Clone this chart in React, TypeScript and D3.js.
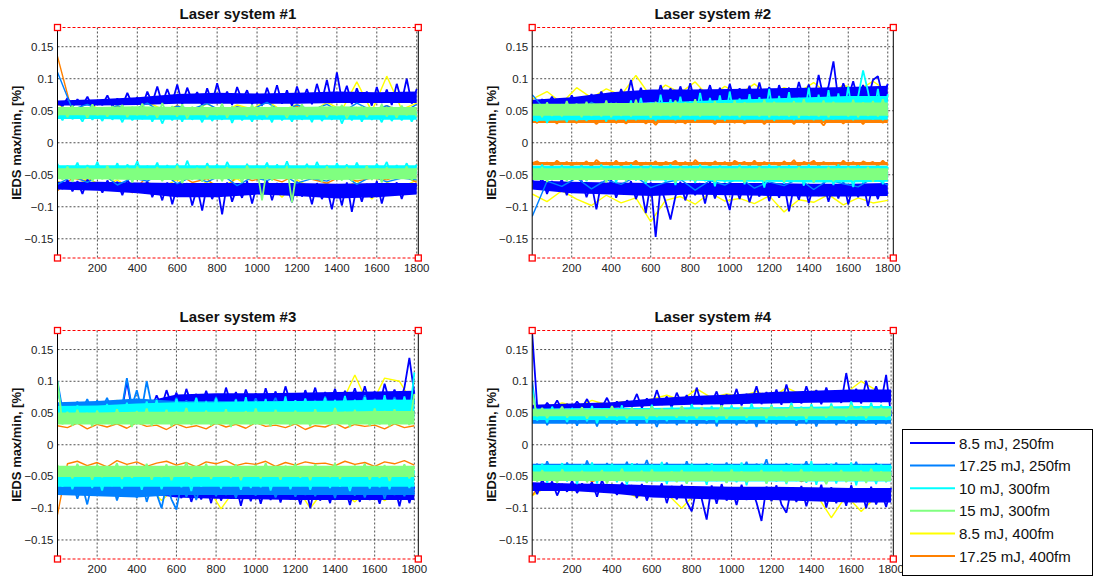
import React from "react";
import * as d3 from "d3";

// legend order
const SERIES = ["8.5 mJ, 250fm", "17.25 mJ, 250fm", "10 mJ, 300fm", "15 mJ, 300fm", "8.5 mJ, 400fm", "17.25 mJ, 400fm"];
const COLORS = ["#0000ff", "#0080ff", "#00ffff", "#80ff80", "#ffff00", "#ff8000"];
// matlab plotted them so that yellow/orange sit underneath
const DRAW_ORDER = [4, 5, 0, 1, 2, 3];

const TITLES = ["Laser system #1", "Laser system #2", "Laser system #3", "Laser system #4"];
const X_TICKS = [200, 400, 600, 800, 1000, 1200, 1400, 1600, 1800];
const Y_TICKS = [-0.15, -0.1, -0.05, 0, 0.05, 0.1, 0.15];
const X_LAST = 1800; // last pulse index
const X_MAX = [1808, 1828, 1820, 1811]; // axis limits of each subplot
const CORE_STEP = 200; // pulses between core samples

// IEDS max / min traces (sampled), values in 1e-3 %, series in legend order
const sys1Max: number[][] = [
  [64,57,70,56,68,58,72,55,66,59, 74,57,69,58,78,60,71,56,80,62, 88,61,84,63,91,60,86,65,79,58, 85,62,93,64,80,59,87,66,82,60, 78,58,86,63,90,61,82,57,88,64, 84,60,92,65,98,62,110,66,89,60, 85,63,80,58,87,62,83,59,92,64, 100,61,84],
  [110,52,60,48,58,50,62,47,57,53,61,49,56,52,63,48,59,51,60,47,62,50,58,46,60],
  [48,35,52,37,46,33,50,36,47,34, 53,36,49,32,51,35,47,37,54,33, 50,30,48,35,52,33,55,36,49,32, 51,34,47,36,53,31,50,35,48,33, 52,36,49,32,54,35,47,33,51,36, 50,32,53,34,48,36,52,30,49,35, 54,33,50,36,47,32,52,34,49,35, 51,33,48],
  [42,56,40,58,44,55,39,60,43,54, 41,57,45,59,40,56,43,61,42,55, 39,62,44,57,41,60,38,56,45,58, 40,55,43,61,39,57,44,54,41,59, 42,56,40,58,45,53,39,57,43,60, 41,55,44,58,40,56,43,59,38,54, 42,57,40,55,44,60,41,56,39,58, 43,55,41],
  [60,48,62,50,58,46,64,52,57,49,61,47,59,53,66,50,60,48,63,51,95,49,104,52,62],
  [135,46,55,44,57,48,53,45,58,47,52,44,56,49,54,46,57,45,53,48,55,44,58,47,52],
];
const sys1Min: number[][] = [
  [-62,-72,-58,-76,-60,-80,-57,-71,-63,-78, -59,-74,-61,-82,-58,-70,-64,-77,-60,-85, -66,-90,-62,-96,-68,-84,-63,-98,-70,-106, -64,-88,-67,-112,-62,-92,-69,-86,-60,-95, -65,-82,-59,-90,-63,-78,-68,-93,-61,-84, -66,-96,-63,-88,-70,-104,-65,-98,-62,-108, -67,-92,-64,-86,-60,-95,-66,-80,-62,-88, -64,-78,-66],
  [-65,-52,-62,-48,-66,-55,-60,-47,-64,-53,-61,-50,-67,-54,-59,-49,-63,-56,-60,-48,-65,-52,-61,-55,-58],
  [-33,-50,-36,-47,-31,-53,-35,-48,-30,-51, -37,-49,-32,-54,-34,-46,-29,-52,-36,-48, -31,-55,-35,-47,-33,-51,-28,-49,-36,-53, -32,-48,-34,-52,-30,-46,-37,-54,-33,-50, -35,-47,-31,-53,-34,-49,-29,-51,-36,-48, -33,-52,-30,-47,-35,-55,-32,-49,-34,-51, -31,-48,-36,-53,-33,-46,-30,-52,-35,-49, -32,-50,-34],
  [-40,-58,-37,-61,-42,-55,-38,-60,-41,-57, -36,-59,-43,-56,-39,-62,-37,-58,-44,-55, -38,-60,-41,-57,-36,-63,-42,-58,-39,-61, -37,-56,-43,-60,-38,-58,-41,-62,-36,-57, -40,-90,-38,-59,-42,-56,-37,-93,-41,-58, -39,-57,-42,-61,-37,-55,-43,-59,-38,-60, -41,-56,-36,-58,-40,-62,-38,-57,-42,-55, -37,-59,-40],
  [-60,-72,-55,-68,-58,-74,-62,-70,-57,-78,-60,-69,-56,-73,-61,-85,-58,-71,-63,-76,-59,-88,-62,-70,-58],
  [-75,-55,-60,-50,-64,-78,-52,-58,-48,-62,-56,-80,-51,-59,-54,-61,-49,-57,-63,-52,-60,-55,-58,-50,-62],
];

const sys2Max: number[][] = [
  [63,55,68,57,72,58,66,54,74,60, 70,58,76,60,80,62,75,57,84,63, 98,61,86,64,82,60,90,66,85,62, 88,65,93,61,84,67,90,63,86,60, 92,64,85,66,89,62,94,65,87,61, 90,67,86,63,95,68,91,64,106,70, 88,127,66,93,71,96,65,90,68,98, 104,72,92],
  [75,48,60,45,63,50,58,44,62,52,57,46,64,49,59,47,61,51,56,45,63,48,60,50,58],
  [50,33,56,31,52,35,58,32,54,34, 57,34,60,36,55,33,62,35,58,34, 66,35,70,36,63,34,75,36,68,35, 72,36,65,34,78,37,70,35,74,34, 80,36,69,35,76,37,71,35,84,34, 73,36,79,35,70,37,86,35,75,34, 82,36,77,37,88,35,72,113,80,36, 84,35,76],
  [44,60,40,63,42,58,41,65,43,61, 40,64,42,59,41,66,40,62,42,60, 41,67,43,61,39,64,42,60,41,66, 40,63,42,68,41,61,43,65,40,62, 42,66,40,63,43,60,41,67,40,64, 42,61,41,65,39,68,42,62,41,66, 40,64,43,60,41,67,40,63,42,65, 41,68,42],
  [68,80,62,86,70,84,74,105,72,90,78,95,70,88,76,92,73,86,79,94,75,90,82,96,80],
  [36,31,38,33,37,30,38,34,36,31, 38,32,37,29,36,33,38,31,36,30, 37,34,38,30,36,28,37,33,38,31, 36,30,38,34,37,32,37,29,38,33, 38,31,37,30,36,34,38,29,37,32, 37,33,38,29,38,31,37,35,36,27, 38,32,37,30,37,34,38,29,38,33, 37,31,37],
];
const sys2Min: number[][] = [
  [-58,-72,-55,-80,-60,-74,-57,-82,-62,-76, -59,-85,-63,-104,-61,-78,-58,-86,-64,-80, -60,-88,-66,-110,-62,-147,-68,-92,-120,-84, -61,-90,-65,-82,-63,-95,-60,-87,-66,-80, -105,-64,-88,-62,-93,-67,-84,-60,-91,-65, -86,-63,-107,-68,-89,-61,-94,-66,-83,-62, -92,-64,-87,-60,-96,-67,-85,-63,-99,-65, -88,-62,-80],
  [-115,-60,-68,-55,-72,-58,-65,-53,-70,-62,-57,-74,-59,-66,-54,-71,-61,-67,-56,-73,-58,-64,-69,-55,-66],
  [-36,-52,-34,-58,-38,-50,-35,-56,-37,-53, -35,-60,-39,-54,-34,-57,-36,-62,-38,-55, -34,-59,-37,-64,-35,-56,-39,-61,-34,-66, -38,-58,-36,-63,-34,-60,-37,-68,-35,-62, -39,-57,-34,-65,-36,-61,-38,-70,-34,-59, -37,-64,-35,-60,-39,-67,-34,-62,-36,-58, -38,-66,-34,-61,-37,-69,-35,-63,-39,-60, -36,-65,-38],
  [-40,-58,-38,-61,-41,-56,-39,-60,-40,-57, -39,-59,-41,-55,-38,-62,-40,-57,-39,-60, -41,-56,-39,-61,-38,-58,-41,-55,-40,-62, -39,-57,-40,-60,-38,-56,-41,-61,-39,-58, -41,-55,-38,-62,-40,-57,-38,-60,-40,-56, -39,-61,-41,-58,-38,-55,-40,-62,-41,-57, -38,-60,-40,-56,-39,-59,-41,-55,-38,-61, -40,-58,-41],
  [-80,-92,-75,-88,-98,-82,-94,-86,-123,-90,-84,-96,-78,-91,-87,-95,-83,-108,-89,-93,-81,-97,-86,-94,-90],
  [-32,-29,-35,-31,-36,-28,-34,-30,-36,-31, -35,-29,-37,-27,-33,-31,-36,-28,-36,-30, -34,-28,-36,-31,-35,-29,-37,-30,-33,-28, -36,-30,-37,-27,-34,-31,-36,-29,-35,-30, -37,-28,-33,-30,-36,-28,-37,-30,-34,-31, -36,-29,-35,-27,-37,-30,-33,-28,-36,-30, -34,-31,-37,-28,-35,-30,-36,-29,-33,-30, -36,-28,-35],
];

const sys3Max: number[][] = [
  [90,52,60,50,64,53,62,49,66,55, 63,51,68,54,100,56,65,52,70,57, 78,60,86,63,82,58,88,65,80,61, 85,62,79,59,90,64,83,60,87,66, 81,58,89,63,84,61,92,65,80,59, 86,64,90,60,83,66,88,62,85,67, 89,63,92,65,84,61,96,68,87,64, 90,137,80],
  [100,55,62,50,68,54,72,52,70,56, 74,53,69,58,105,60,86,55,100,62, 72,52,68,55,74,50,70,56,73,53, 69,55,75,51,68,57,72,52,70,56, 73,53,67,58,74,51,71,55,69,54, 72,57,70,52,76,55,71,58,74,53, 70,56,78,54,72,59,69,55,75,57, 73,54,70],
  [95,40,58,36,62,42,56,38,60,41, 64,39,59,43,66,37,61,40,68,42, 70,41,65,38,72,44,67,40,74,39, 68,43,73,38,66,42,71,40,75,37, 69,44,72,39,67,41,76,38,70,43, 73,40,68,45,74,39,70,42,77,41, 71,38,75,43,69,40,78,44,72,39, 76,42,114],
  [100,32,52,30,55,34,50,29,54,33, 49,31,56,35,51,28,53,32,57,30, 48,34,55,29,52,33,58,31,50,35, 54,30,49,33,56,28,51,34,53,31, 57,32,50,29,55,35,48,30,54,33, 51,29,56,34,49,31,58,33,52,28, 55,35,50,30,57,32,53,29,56,34, 50,31,80],
  [60,55,65,52,70,58,63,54,68,57,66,53,71,59,64,56,69,55,72,60,110,58,105,100,62],
  [30,27,34,25,32,28,33,26,35,29,31,24,33,27,30,25,34,28,32,26,35,29,31,27,33,24,30,28,34,26,32,29,31,25,33,27,30],
];
const sys3Min: number[][] = [
  [-60,-72,-56,-75,-62,-70,-58,-77,-61,-73, -57,-76,-63,-71,-59,-78,-55,-74,-62,-79, -60,-80,-58,-82,-64,-84,-61,-90,-66,-86, -63,-92,-60,-88,-67,-85,-62,-96,-65,-89, -61,-93,-66,-87,-60,-91,-64,-86,-68,-94, -63,-100,-62,-88,-67,-92,-60,-85,-66,-95, -64,-90,-61,-87,-68,-93,-63,-86,-65,-97, -62,-92,-66],
  [-70,-62,-78,-58,-85,-64,-94,-60,-80,-66, -75,-59,-88,-63,-79,-61,-84,-57,-90,-65, -77,-100,-62,-86,-102,-60,-82,-64,-87,-59, -76,-63,-81,-58,-79,-62,-84,-60,-78,-65, -80,-61,-77,-59,-83,-64,-75,-60,-82,-62, -79,-58,-81,-63,-76,-61,-84,-59,-78,-64, -80,-60,-83,-62,-77,-58,-85,-61,-79,-63, -81,-60,-78],
  [-45,-66,-42,-70,-47,-63,-40,-68,-44,-72, -41,-65,-46,-69,-43,-62,-39,-71,-45,-64, -42,-70,-47,-63,-40,-67,-44,-73,-41,-66, -46,-64,-43,-69,-39,-65,-45,-71,-42,-68, -44,-67,-40,-72,-46,-63,-42,-70,-45,-65, -41,-71,-47,-64,-43,-68,-40,-66,-44,-73, -46,-62,-42,-69,-45,-67,-39,-70,-43,-64, -44,-68,-41],
  [-32,-50,-35,-53,-30,-48,-36,-55,-31,-51, -34,-49,-29,-54,-33,-52,-37,-47,-30,-55, -35,-51,-31,-56,-34,-48,-28,-53,-36,-50, -30,-54,-33,-49,-37,-52,-31,-56,-35,-47, -32,-53,-29,-50,-36,-55,-33,-48,-30,-52, -34,-56,-31,-49,-37,-51,-29,-54,-35,-50, -33,-48,-30,-55,-36,-52,-32,-57,-34,-49, -31,-53,-35],
  [-62,-70,-58,-74,-65,-72,-60,-88,-66,-75,-63,-101,-68,-73,-61,-77,-64,-100,-69,-72,-90,-67,-88,-71,-65],
  [-110,-30,-26,-33,-28,-35,-25,-31,-27,-34,-29,-26,-32,-28,-35,-27,-30,-25,-33,-29,-31,-26,-34,-28,-32,-27,-30,-29,-33,-26,-31,-28,-34,-27,-30,-25,-32],
];

const sys4Max: number[][] = [
  [175,60,54,66,56,70,55,64,57,68, 58,72,56,65,59,74,57,68,55,70, 62,80,58,73,60,86,63,76,59,82, 64,78,61,90,63,75,66,84,60,79, 65,88,62,80,68,92,64,83,66,87, 63,95,67,82,65,92,69,86,64,90, 68,84,66,113,70,88,65,101,71,92, 67,110,45],
  [100,35,50,31,48,36,53,33,47,30, 52,34,49,29,51,37,46,32,54,35, 48,30,53,36,47,28,50,34,55,31, 49,35,52,30,46,33,54,29,50,36, 53,31,47,34,51,28,55,35,48,32, 50,36,54,30,47,33,52,29,49,35, 55,31,48,34,53,30,50,36,46,32, 51,33,49],
  [90,38,55,35,60,40,52,36,58,39, 54,37,61,34,57,41,53,38,62,36, 59,40,56,35,63,39,55,37,60,42, 57,36,64,40,58,38,61,35,56,41, 62,39,57,37,65,42,59,36,63,40, 58,41,66,38,60,36,64,43,57,39, 65,40,59,37,68,42,61,38,66,41, 63,39,60],
  [80,45,58,42,56,47,60,43,55,46, 59,41,57,48,54,43,61,45,56,42, 58,47,55,41,60,44,57,48,53,43, 61,45,56,42,59,47,54,44,62,41, 57,46,60,43,55,48,58,42,61,45, 56,44,62,47,58,41,60,46,57,43, 61,48,56,44,63,45,59,42,60,47, 58,44,50],
  [62,58,66,60,70,63,68,65,72,78,70,88,74,80,76,84,73,90,79,85,77,82,100,86,80],
  [60,45,52,43,55,47,50,44,53,46,51,42,54,48,50,45,52,43,55,47,51,44,53,46,50],
];
const sys4Min: number[][] = [
  [-60,-78,-55,-72,-58,-80,-62,-74,-57,-76, -61,-70,-59,-82,-56,-75,-63,-79,-60,-73, -64,-84,-62,-88,-66,-80,-61,-92,-65,-86, -63,-90,-105,-68,-85,-118,-64,-93,-62,-88, -67,-95,-63,-87,-69,-91,-120,-66,-89,-64, -94,-107,-68,-90,-65,-97,-70,-88,-63,-99, -67,-92,-71,-96,-64,-90,-69,-100,-66,-94, -72,-98,-68],
  [-40,-30,-48,-26,-45,-33,-50,-28,-44,-31, -49,-25,-46,-34,-52,-29,-43,-32,-47,-27, -51,-30,-44,-24,-48,-33,-53,-28,-45,-31, -50,-26,-47,-35,-42,-29,-54,-32,-46,-28, -52,-33,-45,-27,-49,-30,-44,-23,-51,-34, -47,-29,-53,-31,-43,-26,-50,-33,-48,-30, -45,-28,-52,-32,-46,-27,-49,-34,-44,-29, -50,-31,-47],
  [-35,-55,-30,-60,-33,-52,-29,-58,-34,-62, -31,-56,-28,-61,-35,-53,-30,-59,-33,-63, -29,-57,-34,-60,-31,-54,-27,-62,-35,-58, -32,-61,-30,-55,-36,-63,-29,-57,-33,-60, -31,-59,-28,-64,-34,-56,-30,-61,-32,-58, -35,-62,-29,-57,-31,-60,-26,-63,-34,-55, -30,-61,-33,-58,-28,-64,-32,-56,-35,-62, -31,-59,-34],
  [-42,-58,-40,-56,-44,-60,-39,-55,-43,-57, -41,-59,-45,-54,-40,-61,-43,-56,-38,-58, -44,-55,-41,-60,-39,-57,-45,-54,-42,-59, -40,-61,-43,-56,-46,-58,-41,-55,-44,-60, -39,-57,-42,-59,-45,-54,-40,-61,-43,-56, -41,-60,-44,-55,-39,-58,-42,-57,-45,-62, -43,-56,-40,-59,-44,-55,-41,-60,-38,-57, -42,-58,-45],
  [-80,-66,-70,-72,-68,-75,-71,-83,-69,-77,-100,-74,-79,-73,-81,-76,-88,-72,-84,-78,-115,-80,-105,-82,-76],
  [-80,-48,-55,-45,-58,-50,-53,-46,-57,-49,-52,-44,-56,-51,-54,-47,-55,-45,-58,-50,-53,-46,-56,-48,-52],
];

// dense part of each trace (where the 1800 pts smear into a solid band),
// [low, high] every 200 pulses, 1e-3 %; null = nothing solid visible
type Core = [number, number][] | null;
const sys1MaxCore: Core[] = [
  [[58,66],[58,68],[59,71],[61,76],[61,78],[61,77],[61,78],[62,80],[62,79],[62,80]],
  null,
  [[37,49],[37,49],[36,49],[36,49],[36,49],[36,49],[36,49],[36,49],[36,49],[36,49]],
  [[43,56],[43,56],[43,57],[43,56],[43,56],[43,56],[43,56],[43,57],[43,56],[43,56]],
  null,
  null,
];
const sys1MinCore: Core[] = [
  [[-73,-61],[-75,-61],[-79,-62],[-85,-63],[-85,-63],[-81,-63],[-83,-63],[-87,-64],[-85,-63],[-81,-63]],
  null,
  [[-49,-35],[-49,-35],[-49,-35],[-49,-35],[-49,-35],[-49,-35],[-49,-35],[-49,-35],[-49,-35],[-49,-35]],
  [[-57,-40],[-57,-40],[-58,-40],[-58,-40],[-57,-40],[-57,-40],[-57,-40],[-58,-40],[-57,-40],[-57,-40]],
  null,
  null,
];
const sys2MaxCore: Core[] = [
  [[57,67],[59,71],[61,79],[63,83],[63,83],[64,84],[64,85],[65,86],[65,87],[66,89]],
  null,
  [[34,51],[35,55],[36,59],[36,63],[36,65],[36,67],[36,69],[36,71],[36,73],[36,73]],
  [[42,61],[42,61],[42,62],[42,62],[42,62],[42,62],[42,63],[42,63],[42,63],[42,63]],
  null,
  [[31,37],[31,37],[31,37],[31,37],[31,37],[31,37],[31,37],[31,37],[31,37],[31,37]],
];
const sys2MinCore: Core[] = [
  [[-73,-59],[-79,-61],[-81,-62],[-83,-63],[-81,-63],[-82,-63],[-83,-63],[-84,-64],[-84,-64],[-83,-63]],
  null,
  [[-53,-36],[-55,-36],[-57,-36],[-59,-36],[-59,-36],[-61,-36],[-61,-36],[-62,-36],[-62,-36],[-61,-36]],
  [[-58,-40],[-58,-40],[-58,-40],[-58,-40],[-58,-40],[-58,-40],[-58,-40],[-58,-40],[-58,-40],[-58,-40]],
  null,
  [[-35,-30],[-35,-30],[-35,-30],[-35,-30],[-35,-30],[-35,-30],[-35,-30],[-35,-30],[-35,-30],[-35,-30]],
];
const sys3MaxCore: Core[] = [
  [[53,61],[53,63],[55,65],[63,79],[63,81],[63,81],[63,82],[64,83],[65,84],[65,85]],
  [[55,67],[55,69],[57,73],[55,69],[54,69],[54,69],[55,69],[55,70],[56,71],[56,71]],
  [[41,61],[41,62],[42,65],[42,67],[42,67],[42,68],[42,69],[42,69],[42,71],[42,71]],
  [[32,51],[32,51],[32,52],[32,52],[32,52],[32,52],[32,52],[32,52],[32,53],[32,53]],
  null,
  null,
];
const sys3MinCore: Core[] = [
  [[-73,-59],[-74,-60],[-75,-61],[-83,-63],[-85,-64],[-86,-64],[-87,-64],[-87,-65],[-87,-65],[-87,-65]],
  [[-79,-63],[-81,-63],[-83,-64],[-79,-62],[-79,-62],[-79,-62],[-79,-62],[-79,-62],[-79,-62],[-79,-62]],
  [[-66,-44],[-66,-44],[-66,-44],[-66,-44],[-66,-44],[-66,-44],[-66,-44],[-66,-44],[-66,-44],[-66,-44]],
  [[-51,-33],[-51,-33],[-51,-33],[-51,-33],[-51,-33],[-51,-33],[-51,-33],[-51,-33],[-51,-33],[-51,-33]],
  null,
  null,
];
const sys4MaxCore: Core[] = [
  [[56,63],[57,65],[58,67],[61,73],[63,77],[64,79],[65,83],[66,85],[67,87],[67,87]],
  [[33,49],[33,49],[33,49],[33,49],[33,49],[33,49],[33,49],[33,49],[33,49],[33,49]],
  [[39,57],[39,57],[39,58],[39,58],[39,59],[39,59],[39,59],[39,60],[39,61],[39,61]],
  [[45,56],[45,56],[45,56],[45,56],[45,56],[45,56],[45,57],[45,57],[45,57],[45,57]],
  null,
  null,
];
const sys4MinCore: Core[] = [
  [[-73,-59],[-73,-61],[-77,-62],[-83,-64],[-85,-65],[-87,-66],[-87,-66],[-89,-67],[-91,-68],[-91,-68]],
  [[-47,-30],[-47,-30],[-47,-30],[-47,-30],[-47,-30],[-47,-30],[-47,-30],[-47,-30],[-47,-30],[-47,-30]],
  [[-57,-32],[-57,-32],[-57,-32],[-58,-32],[-58,-32],[-58,-32],[-58,-32],[-58,-32],[-58,-32],[-58,-32]],
  [[-57,-42],[-57,-42],[-57,-42],[-57,-42],[-57,-42],[-57,-42],[-57,-42],[-57,-42],[-57,-42],[-57,-42]],
  null,
  null,
];

const MAX_DATA = [sys1Max, sys2Max, sys3Max, sys4Max];
const MIN_DATA = [sys1Min, sys2Min, sys3Min, sys4Min];
const MAX_CORE = [sys1MaxCore, sys2MaxCore, sys3MaxCore, sys4MaxCore];
const MIN_CORE = [sys1MinCore, sys2MinCore, sys3MinCore, sys4MinCore];

const FONT = "'Liberation Sans', Arial, Helvetica, sans-serif";

// plot boxes, picked off the figure
const BOXES = [
  { left: 57.5, right: 418.3, top: 27.5, bottom: 258, labelX: 21 },
  { left: 532.2, right: 893.3, top: 27.5, bottom: 258, labelX: 496 },
  { left: 57.5, right: 418.3, top: 330.5, bottom: 559, labelX: 21 },
  { left: 532.2, right: 893.3, top: 330.5, bottom: 559, labelX: 496 },
];

function Panel({ idx }: { idx: number }) {
  const b = BOXES[idx];
  const x = d3.scaleLinear().domain([0, X_MAX[idx]]).range([b.left, b.right]);
  const y = d3.scaleLinear().domain([-0.18, 0.18]).range([b.bottom, b.top]);

  const pathOf = (vals: number[]) =>
    d3
      .line<number>()
      .x((_, i) => x((i * X_LAST) / (vals.length - 1)))
      .y((v) => y(v / 1000))(vals) || "";
  const coreOf = (c: [number, number][]) =>
    d3
      .area<[number, number]>()
      .x((_, i) => x(i * CORE_STEP))
      .y0((d) => y(d[0] / 1000))
      .y1((d) => y(d[1] / 1000))(c) || "";
  const widthOf = (vals: number[]) => (vals.length > 40 ? 1.8 : 1.4);

  const sq = 6;
  const corners = [
    [b.left, b.top],
    [b.right, b.top],
    [b.left, b.bottom],
    [b.right, b.bottom],
  ];
  const midY = (b.top + b.bottom) / 2;

  return (
    <g>
      <defs>
        <clipPath id={"clip" + idx}>
          <rect x={b.left} y={b.top} width={b.right - b.left} height={b.bottom - b.top} />
        </clipPath>
      </defs>
      {/* grid */}
      {X_TICKS.map((t) => (
        <line key={"gx" + t} x1={x(t)} x2={x(t)} y1={b.top} y2={b.bottom} stroke="#222" strokeWidth={0.8} strokeDasharray="2,2" />
      ))}
      {Y_TICKS.map((t) => (
        <line key={"gy" + t} x1={b.left} x2={b.right} y1={y(t)} y2={y(t)} stroke="#222" strokeWidth={0.8} strokeDasharray="2,2" />
      ))}

      {/* traces */}
      <g clipPath={`url(#clip${idx})`}>
        {DRAW_ORDER.map((s) => {
          const cMax = MAX_CORE[idx][s];
          const cMin = MIN_CORE[idx][s];
          const vMax = MAX_DATA[idx][s];
          const vMin = MIN_DATA[idx][s];
          return (
            <g key={"s" + s}>
              {cMax && <path d={coreOf(cMax)} fill={COLORS[s]} stroke="none" />}
              {cMin && <path d={coreOf(cMin)} fill={COLORS[s]} stroke="none" />}
              <path d={pathOf(vMax)} fill="none" stroke={COLORS[s]} strokeWidth={widthOf(vMax)} strokeLinejoin="bevel" />
              <path d={pathOf(vMin)} fill="none" stroke={COLORS[s]} strokeWidth={widthOf(vMin)} strokeLinejoin="bevel" />
            </g>
          );
        })}
      </g>

      {/* frame: left/right axes, selected box edges in red */}
      <line x1={b.left} x2={b.left} y1={b.top} y2={b.bottom} stroke="#000" strokeWidth={1} />
      <line x1={b.right} x2={b.right} y1={b.top} y2={b.bottom} stroke="#000" strokeWidth={1} />
      <line x1={b.left} x2={b.right} y1={b.top} y2={b.top} stroke="#ff0000" strokeWidth={1} strokeDasharray="3,2" />
      <line x1={b.left} x2={b.right} y1={b.bottom} y2={b.bottom} stroke="#ff0000" strokeWidth={1} strokeDasharray="3,2" />
      {corners.map(([cx, cy], i) => (
        <rect key={"c" + i} x={cx - sq / 2} y={cy - sq / 2} width={sq} height={sq} fill="#fff" stroke="#ff0000" strokeWidth={1.3} />
      ))}

      {/* tick labels */}
      {X_TICKS.map((t) => (
        <text key={"tx" + t} x={x(t)} y={b.bottom + 14} textAnchor="middle" fontSize={11.5} fill="#222" fontFamily={FONT}>
          {t}
        </text>
      ))}
      {Y_TICKS.map((t) => (
        <text key={"ty" + t} x={b.left - 4} y={y(t) + 4} textAnchor="end" fontSize={11.5} fill="#222" fontFamily={FONT}>
          {d3.format("")(+t.toFixed(2))}
        </text>
      ))}

      <text x={(b.left + b.right) / 2} y={b.top - 9} textAnchor="middle" fontSize={15} fontWeight="bold" fontFamily={FONT} fill="#111">
        {TITLES[idx]}
      </text>
      <text
        transform={`translate(${b.labelX},${midY}) rotate(-90)`}
        textAnchor="middle"
        fontSize={13}
        fontWeight="bold"
        fontFamily={FONT}
        fill="#111"
      >
        IEDS max/min, [%]
      </text>
    </g>
  );
}

function Legend() {
  const left = 902.5;
  const top = 429.5;
  const rowY = (i: number) => 443 + i * 22.6;
  return (
    <g>
      <rect x={left} y={top} width={190} height={146} fill="#fff" stroke="#000" strokeWidth={1} />
      {SERIES.map((name, i) => (
        <g key={name}>
          <line x1={910} x2={955} y1={rowY(i)} y2={rowY(i)} stroke={COLORS[i]} strokeWidth={2} />
          <text x={959} y={rowY(i) + 5.5} fontSize={15} fontFamily={FONT} fill="#111">
            {name}
          </text>
        </g>
      ))}
    </g>
  );
}

export default function App() {
  return (
    <svg width={1093} height={577} style={{ position: "absolute", left: 0, top: 0, background: "#fff" }}>
      <rect width={1093} height={577} fill="#fff" />
      {[0, 1, 2, 3].map((i) => (
        <Panel key={i} idx={i} />
      ))}
      <Legend />
    </svg>
  );
}
